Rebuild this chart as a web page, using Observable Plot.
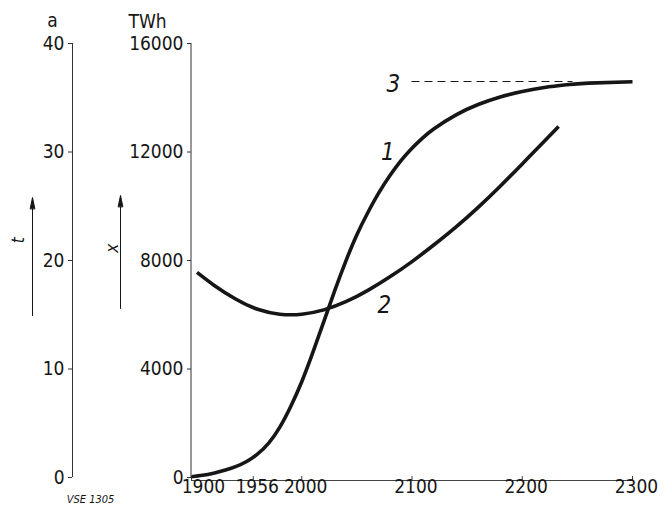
<!DOCTYPE html>
<html><head><meta charset="utf-8">
<script src="https://cdn.jsdelivr.net/npm/d3@7"></script>
<script src="https://cdn.jsdelivr.net/npm/@observablehq/plot@0.6"></script>
<style>
body{margin:0;background:#fff;}
</style></head><body><div id="chart"></div>
<script>
// Curve 1: energy x (TWh)
const years1 = [1900,1910,1920,1930,1940,1950,1960,1970,1980,1990,2000,2010,2020,2030,2040,2050,2060,2070,2080,2090,2100,2110,2120,2140,2160,2180,2200,2220,2240,2260,2300];
const energy = [30,80,160,265,400,590,870,1270,1850,2620,3530,4600,5750,6900,7980,8950,9770,10500,11130,11680,12140,12530,12860,13370,13750,14030,14230,14380,14480,14540,14590];
// Curve 2: time t (a)
const years2 = [1905,1920,1940,1960,1980,2000,2020,2040,2060,2080,2100,2120,2140,2160,2180,2200,2220,2233];
const lifetime = [18.9,17.75,16.45,15.5,15.05,15.05,15.45,16.2,17.25,18.5,19.9,21.45,23.1,24.9,26.85,28.9,31.0,32.35];
// Curve 3: saturation level (TWh)
const saturation = 14600;
const satYears = [2100,2246];
// Axes
const xTicks = [1900,1956,2000,2100,2200,2300];
const yTicks = [0,4000,8000,12000,16000];
const tTicks = [0,10,20,30,40];
const tPerTWh = 40/16000;
// Curve labels (data units)
const curveLabels = [
  {label:"1", year:2078, value:12000},
  {label:"2", year:2075, value:6340},
  {label:"3", year:2083, value:14500}
];

const curve1 = years1.map((y,i)=>({year:y, v:energy[i]}));
const curve2 = years2.map((y,i)=>({year:y, v:lifetime[i]/tPerTWh}));

const FONT = "'DejaVu Sans Condensed', 'DejaVu Sans', sans-serif";
const INK = "#161616";
const arrowShape = {draw(ctx, l){ ctx.moveTo(0,0); ctx.lineTo(0,-l+8); ctx.moveTo(-2.3,-l+11); ctx.lineTo(0,-l); ctx.lineTo(2.3,-l+11); ctx.closePath(); }};

const chart = Plot.plot({
  width: 665, height: 506,
  marginLeft: 191, marginRight: 33, marginTop: 43, marginBottom: 29,
  style: {fontFamily: FONT, background: "#fff", color: INK},
  x: {domain: [1900, 2300], axis: null},
  y: {domain: [0, 16000], axis: null},
  marks: [
    // TWh axis
    Plot.ruleX([1900], {y1: 0, y2: 16000, stroke: "#333", strokeWidth: 1, dx: -0.5}),
    Plot.axisY({ticks: yTicks, tickSize: 4, tickPadding: 4, tickFormat: d => String(d), fontSize: 19, stroke: "#333", fill: INK, label: null}),
    // a axis
    Plot.ruleX([1900], {y1: 0, y2: 16000, stroke: "#333", strokeWidth: 1, dx: -119}),
    Plot.axisY({ticks: yTicks, tickSize: 4, tickPadding: 4, dx: -119, tickFormat: d => String(Math.round(d*tPerTWh)), fontSize: 19, stroke: "#333", fill: INK, label: null}),
    // x axis
    Plot.ruleY([0], {x1: 1900, x2: 2300, stroke: "#444", strokeWidth: 1, dy: 3}),
    Plot.axisX({ticks: xTicks, tickSize: -4, text: null, dy: 3, stroke: "#444", label: null}),
    Plot.text(xTicks.filter(d => d !== 1900), {x: d => d, frameAnchor: "bottom", dy: 15, dx: 4, text: d => String(d), fontSize: 19, fill: INK}),
    Plot.text(xTicks.filter(d => d === 1900), {x: d => d, frameAnchor: "bottom", dy: 15, dx: 12, text: d => String(d), fontSize: 19, fill: INK}),
    // unit labels
    Plot.text(["a"], {x: 1900, y: 16000, dx: -139, dy: -23, text: d => d, fontSize: 19, fill: INK}),
    Plot.text(["TWh"], {x: 1900, y: 16000, dx: -63, dy: -22, text: d => d, textAnchor: "start", fontSize: 19, fill: INK, letterSpacing: 2}),
    // variable arrows
    Plot.vector([{y: 5970}], {x: 1900, y: "y", dx: -159, length: 118, anchor: "start", shape: arrowShape, stroke: INK, fill: INK, strokeWidth: 1}),
    Plot.vector([{y: 6230}], {x: 1900, y: "y", dx: -71, length: 113, anchor: "start", shape: arrowShape, stroke: INK, fill: INK, strokeWidth: 1}),
    Plot.text(["t"], {x: 1900, y: 8750, dx: -173, text: d => d, rotate: -90, fontSize: 17, fontStyle: "italic", fill: INK}),
    Plot.text(["x"], {x: 1900, y: 8450, dx: -79, text: d => d, rotate: -90, fontSize: 17, fontStyle: "italic", fill: INK}),
    Plot.text(["VSE 1305"], {x: 1900, y: 0, dx: -101, dy: 22, text: d => d, fontSize: 11, fontStyle: "italic", letterSpacing: 1, fill: INK}),
    // saturation dashed line
    Plot.ruleY([saturation], {x1: satYears[0], x2: satYears[1], stroke: INK, strokeWidth: 1.2, strokeDasharray: "8,5"}),
    // curves
    Plot.line(curve1, {x: "year", y: "v", curve: "natural", stroke: INK, strokeWidth: 3.6, strokeLinecap: "butt"}),
    Plot.line(curve2, {x: "year", y: "v", curve: "natural", stroke: INK, strokeWidth: 3.6, strokeLinecap: "butt"}),
    // curve labels
    Plot.text(curveLabels, {x: "year", y: "value", text: "label", fontSize: 24, fontStyle: "italic", fill: INK})
  ]
});
document.getElementById("chart").appendChild(chart);
</script>
</body></html>
